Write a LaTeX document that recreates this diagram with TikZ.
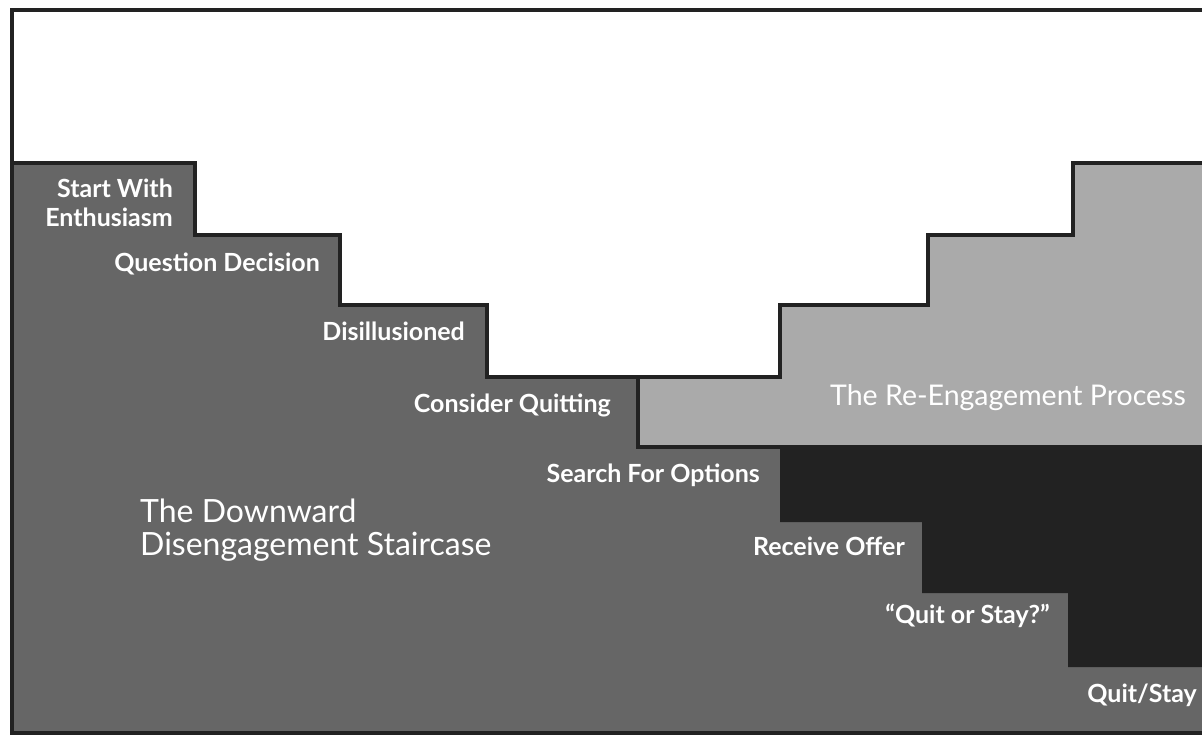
\documentclass[tikz,border=0pt]{standalone}
\usepackage{fontspec}
\setmainfont{Lato}
\definecolor{dgray}{HTML}{666666}
\definecolor{lgray}{HTML}{AAAAAA}
\definecolor{blk}{HTML}{222222}
\begin{document}
\begin{tikzpicture}[x=1pt,y=-1pt,
  steplabel/.style={text=white,font=\bfseries\fontsize{25}{29}\selectfont,inner sep=0pt,anchor=base east,align=right},
  biglabel/.style={text=white,font=\fontsize{32}{33}\selectfont,inner sep=0pt,anchor=base west,align=left},
  outline/.style={draw=blk,line width=4pt,line join=miter}]
\useasboundingbox (0,0) rectangle (1202,735);
\fill[white] (0,0) rectangle (1202,735);
% dark staircase region
\fill[dgray] (12,163) -- (195,163) -- (195,235) -- (340,235) -- (340,305) -- (487,305) -- (487,377) -- (638,377) -- (638,445) -- (780,445) -- (780,522) -- (922,522) -- (922,593) -- (1068,593) -- (1068,667) -- (1204,667) -- (1204,733) -- (12,733) -- cycle;
% light re-engagement region
\fill[lgray] (638,377) -- (780,377) -- (780,305) -- (928,305) -- (928,235) -- (1073,235) -- (1073,163) -- (1204,163) -- (1204,445) -- (638,445) -- cycle;
% black region
\fill[blk] (780,445) -- (1204,445) -- (1204,667) -- (1068,667) -- (1068,593) -- (922,593) -- (922,522) -- (780,522) -- cycle;
% outlines
\draw[outline] (12,163) -- (195,163) -- (195,235) -- (340,235) -- (340,305) -- (487,305) -- (487,377) -- (780,377) -- (780,305) -- (928,305) -- (928,235) -- (1073,235) -- (1073,163) -- (1206,163);
\draw[outline] (638,377) -- (638,447) -- (782,447);
\draw[outline] (12,10) rectangle (1206,733);
% labels
\node[steplabel] (s1) at (173,227) {Start With\\Enthusiasm};
\node[steplabel] (s2) at (320,272) {Question Decision};
\node[steplabel] (s3) at (465,340) {Disillusioned};
\node[steplabel] (s4) at (611,412) {Consider Quitting};
\node[steplabel] (s5) at (760,482) {Search For Options};
\node[steplabel] (s6) at (905,555) {Receive Offer};
\node[steplabel] (s7) at (1050,623) {``Quit or Stay?''};
\node[steplabel] (s8) at (1197,702) {Quit/Stay};
\node[biglabel] (down) at (140,555) {The Downward\\Disengagement Staircase};
\node[biglabel,font=\fontsize{28.5}{34}\selectfont] (re) at (830,405) {The Re-Engagement Process};
\end{tikzpicture}
\end{document}
